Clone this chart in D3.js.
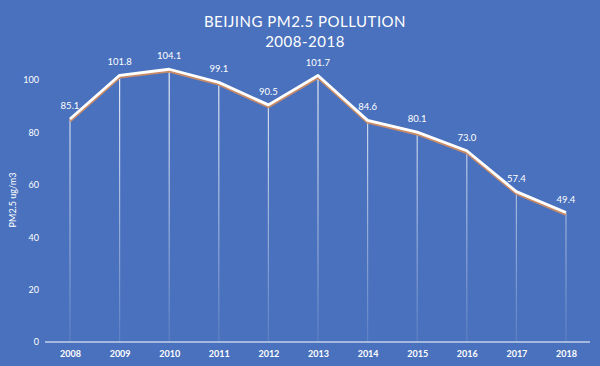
<!DOCTYPE html>
<html><head><meta charset="utf-8">
<script src="https://cdn.jsdelivr.net/npm/d3@7"></script>
<style>html,body{margin:0;padding:0;background:#4a71bd;}svg{display:block;}</style>
</head><body>
<svg id="c" width="600" height="366"></svg>
<script>
const years = ["2008","2009","2010","2011","2012","2013","2014","2015","2016","2017","2018"];
const pm25 = [85.1,101.8,104.1,99.1,90.5,101.7,84.6,80.1,73.0,57.4,49.4];
const yTicks = [0,20,40,60,80,100];
const titleLines = ["BEIJING PM2.5 POLLUTION","2008-2018"];
const yLabel = "PM2.5 ug/m3";

const svg = d3.select("#c");
const W = 600, H = 366;
svg.append("rect").attr("width",W).attr("height",H).attr("fill","#4a71bd");
const font = "Lato, 'Open Sans', sans-serif";

const x = d3.scalePoint().domain(years).range([70,566]);
const y = d3.scaleLinear().domain([0,100]).range([342,80]);

const defs = svg.append("defs");
const grad = defs.append("linearGradient").attr("id","fade")
  .attr("gradientUnits","userSpaceOnUse").attr("x1",0).attr("y1",80).attr("x2",0).attr("y2",342);
grad.append("stop").attr("offset","0%").attr("stop-color","#fff").attr("stop-opacity",0.85);
grad.append("stop").attr("offset","100%").attr("stop-color","#fff").attr("stop-opacity",0.1);

// title
svg.append("g").selectAll("text").data(titleLines).join("text")
  .attr("x",305).attr("y",(d,i)=>27+i*20).attr("text-anchor","middle")
  .attr("fill","#fff").attr("font-family",font).attr("font-size",15).attr("letter-spacing",0.5)
  .text(d=>d);

// y axis ticks labels
const yAxis = d3.axisLeft(y).tickValues(yTicks).tickSize(0).tickPadding(0);
const gy = svg.append("g").attr("transform","translate(39,0)").call(yAxis);
gy.select(".domain").remove();
gy.selectAll("text").attr("fill","#fff").attr("font-family",font).attr("font-size",9);

// y label
svg.append("text").attr("transform","translate(16,200) rotate(-90)")
  .attr("text-anchor","middle").attr("fill","#fff").attr("font-family",font).attr("font-size",9)
  .text(yLabel);

// drop lines
svg.append("g").selectAll("line").data(years).join("line")
  .attr("x1",d=>x(d)).attr("x2",d=>x(d))
  .attr("y1",(d,i)=>y(pm25[i])).attr("y2",y(0))
  .attr("stroke","url(#fade)").attr("stroke-width",1.2);

// x axis
const xAxis = d3.axisBottom(x).tickSize(0).tickPadding(9);
const gx = svg.append("g").attr("transform",`translate(0,${y(0)})`).call(xAxis);
gx.select(".domain").attr("d","M45,0H590").attr("stroke","#fff").attr("stroke-width",1.2);
gx.selectAll("text").attr("fill","#fff").attr("font-family",font).attr("font-size",9).attr("font-weight","bold");

// line
const line = d3.line().x((d,i)=>x(years[i])).y(d=>y(d));
svg.append("path").datum(pm25).attr("d",line).attr("fill","none")
  .attr("stroke","#c98a66").attr("stroke-width",3).attr("stroke-linejoin","round")
  .attr("transform","translate(0,1.8)");
svg.append("path").datum(pm25).attr("d",line).attr("fill","none")
  .attr("stroke","#fff").attr("stroke-width",2.8).attr("stroke-linejoin","round");

// value labels
svg.append("g").selectAll("text").data(pm25).join("text")
  .attr("x",(d,i)=>x(years[i])).attr("y",d=>y(d)-10).attr("text-anchor","middle")
  .attr("fill","#fff").attr("font-family",font).attr("font-size",9.5)
  .text(d=>d.toFixed(1));
</script>
</body></html>
